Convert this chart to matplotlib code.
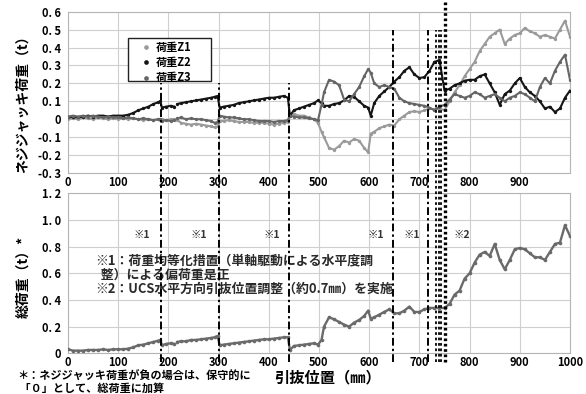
import matplotlib
matplotlib.use("Agg")
import matplotlib.pyplot as plt
from matplotlib.transforms import blended_transform_factory
from matplotlib.patches import Rectangle
from matplotlib.lines import Line2D
import numpy as np

# ---------------- data ----------------
X = [0, 10, 20, 30, 40, 50, 60, 70, 80, 90, 100, 110, 120, 130, 140, 150, 160, 170, 180, 184,
     187, 195, 205, 212, 215, 218, 225, 235, 245, 255, 265, 275, 285, 292, 298,
     302, 310, 320, 330, 340, 350, 360, 370, 380, 390, 400, 410, 420, 430, 438,
     442, 450, 460, 470, 480, 490, 498,
     505, 510, 520, 530, 540, 550, 560, 570, 580, 590, 598,
     603, 610, 620, 630, 640, 650, 660, 670, 680, 690, 700, 710, 720, 730, 740, 750,
     760, 770, 780, 790, 800, 810, 820, 830, 840, 850, 860, 870, 880, 890, 900,
     910, 920, 930, 940, 950, 960, 970, 980, 990, 1000]

nan = float("nan")

Z1 = [0.0, 0.005, 0.0, 0.01, 0.005, 0.0, 0.01, 0.005, 0.0, 0.005, 0.0, 0.005, 0.0, 0.005, 0.0, -0.005, 0.0, -0.005, 0.0, -0.005,
      0.0, -0.005, 0.0, 0.0, nan, -0.005, -0.02, -0.025, -0.03, -0.025, -0.03, -0.035, -0.04, -0.045, -0.04,
      -0.01, -0.01, -0.005, -0.01, -0.015, -0.015, -0.015, -0.02, -0.02, -0.02, -0.025, -0.03, -0.025, -0.02, -0.015,
      0.03, 0.03, 0.02, 0.02, 0.01, 0.0, -0.02,
      -0.07, -0.1, -0.16, -0.17, -0.15, -0.12, -0.13, -0.11, -0.12, -0.16, -0.185,
      -0.08, -0.07, -0.05, -0.04, -0.03, -0.035, 0.0, 0.02, 0.04, 0.045, 0.04, 0.05, 0.06, 0.055, 0.06, 0.05,
      0.10, 0.15, 0.19, 0.24, 0.28, 0.32, 0.38, 0.42, 0.46, 0.48, 0.50, 0.42, 0.45, 0.47, 0.48,
      0.51, 0.49, 0.48, 0.46, 0.47, 0.46, 0.45, 0.50, 0.55, 0.46]

Z2 = [0.01, 0.015, 0.01, 0.015, 0.02, 0.015, 0.02, 0.02, 0.015, 0.02, 0.02, 0.02, 0.025, 0.035, 0.05, 0.06, 0.07, 0.085, 0.095, 0.10,
      0.065, 0.07, 0.075, 0.07, nan, 0.085, 0.09, 0.095, 0.10, 0.105, 0.11, 0.115, 0.12, 0.125, 0.13,
      0.065, 0.07, 0.075, 0.08, 0.09, 0.095, 0.10, 0.105, 0.11, 0.115, 0.12, 0.12, 0.125, 0.13, 0.12,
      0.02, 0.05, 0.06, 0.07, 0.08, 0.09, 0.105,
      0.09, 0.075, 0.075, 0.085, 0.09, 0.105, 0.13, 0.125, 0.10, 0.075, 0.065,
      0.02, 0.09, 0.13, 0.155, 0.18, 0.21, 0.235, 0.27, 0.29, 0.25, 0.23, 0.235, 0.27, 0.32, 0.33, 0.16,
      0.17, 0.19, 0.20, 0.215, 0.22, 0.22, 0.24, 0.25, 0.20, 0.15, 0.08, 0.14, 0.16, 0.20, 0.23,
      0.18, 0.15, 0.13, 0.10, 0.06, 0.07, 0.04, 0.06, 0.12, 0.16]

Z3 = [0.015, 0.02, 0.015, 0.02, 0.015, 0.02, 0.015, 0.01, 0.015, 0.01, 0.01, 0.005, 0.01, 0.005, 0.0, 0.005, 0.0, -0.005, 0.0, 0.0,
      -0.01, -0.005, -0.01, -0.005, nan, 0.005, 0.01, 0.0, 0.005, 0.0, 0.0, -0.005, -0.01, -0.02, -0.015,
      0.02, 0.015, 0.01, 0.01, 0.005, 0.0, 0.0, -0.005, -0.01, -0.01, -0.01, -0.015, -0.01, -0.01, -0.005,
      0.02, 0.015, 0.01, 0.01, 0.005, 0.0, -0.005,
      0.08, 0.15, 0.22, 0.21, 0.19, 0.11, 0.10, 0.14, 0.18, 0.24, 0.28,
      0.26, 0.20, 0.18, 0.19, 0.18, 0.17, 0.12, 0.10, 0.09, 0.085, 0.08, 0.075, 0.065, 0.05, 0.07, 0.08,
      0.11, 0.14, 0.13, 0.12, 0.13, 0.15, 0.14, 0.12, 0.13, 0.14, 0.12, 0.10, 0.12, 0.13, 0.15,
      0.14, 0.12, 0.10, 0.18, 0.23, 0.20, 0.27, 0.32, 0.36, 0.22]

TOTAL = [0.03, 0.02, 0.02, 0.02, 0.025, 0.025, 0.025, 0.03, 0.025, 0.03, 0.03, 0.03, 0.035, 0.045, 0.06, 0.065, 0.075, 0.085, 0.095, 0.10,
         0.06, 0.07, 0.075, 0.07, nan, 0.085, 0.09, 0.09, 0.10, 0.10, 0.105, 0.11, 0.115, 0.12, 0.13,
         0.06, 0.065, 0.07, 0.075, 0.08, 0.085, 0.09, 0.095, 0.10, 0.105, 0.105, 0.11, 0.115, 0.12, 0.12,
         0.025, 0.055, 0.06, 0.065, 0.07, 0.075, 0.065,
         0.10, 0.20, 0.27, 0.255, 0.235, 0.215, 0.20, 0.23, 0.25, 0.28, 0.32,
         0.26, 0.27, 0.29, 0.31, 0.33, 0.30, 0.30, 0.32, 0.35, 0.31, 0.31, 0.33, 0.34, 0.34, 0.34, 0.34,
         0.37, 0.44, 0.47, 0.56, 0.60, 0.68, 0.74, 0.76, 0.73, 0.82, 0.70, 0.63, 0.70, 0.78, 0.79,
         0.78, 0.75, 0.72, 0.72, 0.70, 0.76, 0.82, 0.83, 0.96, 0.88]

SERIES_LABELS = ["荷重Z1", "荷重Z2", "荷重Z3"]
SERIES_COLORS = ["#9a9a9a", "#151515", "#656565"]
TOTAL_COLOR = "#6a6a6a"

TOP_YTICKS = [-0.3, -0.2, -0.1, 0.0, 0.1, 0.2, 0.3, 0.4, 0.5, 0.6]
TOP_YLABELS = ["-0. 3", "-0. 2", "-0. 1", "0", "0. 1", "0. 2", "0. 3", "0. 4", "0. 5", "0. 6"]
BOT_YTICKS = [0.0, 0.2, 0.4, 0.6, 0.8, 1.0, 1.2]
BOT_YLABELS = ["0", "0. 2", "0. 4", "0. 6", "0. 8", "1. 0", "1. 2"]
TOP_XTICKS = [0, 100, 200, 300, 400, 500, 600, 700, 800, 900]
BOT_XTICKS = [0, 100, 200, 300, 400, 500, 600, 700, 800, 900, 1000]

# event lines (position, start value in upper panel)
DASHDOT_X = [185, 300, 440, 648, 717]
DASHDOT_TOP = [0.2, 0.2, 0.2, 0.5, 0.5]
DOT_X = [733, 739, 744]
DOT_TOP = [0.5, 0.5, 0.5]
THICK_X = [750]

NOTE_MARKS = ["※1", "※1", "※1", "※1", "※1", "※2"]
NOTE_X = [147, 261, 406, 613, 685, 784]

NOTE_TEXT = ("※1：荷重均等化措置（単軸駆動による水平度調\n"
             "  整）による偏荷重是正\n"
             "※2：UCS水平方向引抜位置調整（約0.7㎜）を実施")
FOOT_TEXT = ("＊：ネジジャッキ荷重が負の場合は、保守的に\n"
             " 「０」として、総荷重に加算")

# ---------------- figure ----------------
plt.rcParams["font.family"] = ["Noto Sans CJK JP", "DejaVu Sans"]
plt.rcParams["font.weight"] = "bold"

fig = plt.figure(figsize=(5.86, 3.94), dpi=100)
FW, FH = 586.0, 394.0
L = 68 / FW
W = (570 - 68) / FW
ax_top = fig.add_axes([L, 1 - 173 / FH, W, (173 - 11.7) / FH])
ax_bot = fig.add_axes([L, 1 - 353.3 / FH, W, (353.3 - 193.3) / FH])

for y, lab, col in zip([Z1, Z2, Z3], SERIES_LABELS, SERIES_COLORS):
    ax_top.plot(X, y, color=col, lw=1.5, marker="o", ms=2.4, mew=0, label=lab, zorder=3)

ax_bot.plot(X, TOTAL, color=TOTAL_COLOR, lw=1.7, marker="o", ms=2.6, mew=0, zorder=3)

for ax in (ax_top, ax_bot):
    ax.set_xlim(0, 1000)
    ax.grid(True, color="#cfcfcf", lw=0.8)
    ax.set_axisbelow(True)
    for s in ax.spines.values():
        s.set_color("#b5b5b5")
        s.set_linewidth(0.8)
    ax.tick_params(length=0, labelsize=8)
    ax.tick_params(axis="y", pad=5)
    ax.tick_params(axis="x", pad=2)

ax_top.set_ylim(-0.3, 0.6)
ax_top.set_yticks(TOP_YTICKS)
ax_top.set_yticklabels(TOP_YLABELS)
ax_top.set_xticks(TOP_XTICKS)
ax_top.set_xticklabels([str(v) for v in TOP_XTICKS])

ax_bot.set_ylim(0, 1.2)
ax_bot.set_yticks(BOT_YTICKS)
ax_bot.set_yticklabels(BOT_YLABELS)
ax_bot.set_xticks(BOT_XTICKS)
ax_bot.set_xticklabels([str(v) for v in BOT_XTICKS])

# event lines spanning both panels
trans = blended_transform_factory(ax_bot.transData, fig.transFigure)
fig.canvas.draw()
inv = fig.transFigure.inverted()
y_bottom = 1 - 362 / FH

def top_frac(v):
    return inv.transform(ax_top.transData.transform((0, v)))[1]

for xv, tv in zip(DASHDOT_X, DASHDOT_TOP):
    fig.add_artist(Line2D([xv, xv], [y_bottom, top_frac(tv)], transform=trans,
                          color="black", lw=1.4, ls=(0, (4, 1.6, 1.2, 1.6)), zorder=3))
for xv, tv in zip(DOT_X, DOT_TOP):
    fig.add_artist(Line2D([xv, xv], [y_bottom, top_frac(tv)], transform=trans,
                          color="black", lw=1.3, ls=(0, (1.5, 1.5)), zorder=3))
for xv in THICK_X:
    fig.add_artist(Line2D([xv, xv], [y_bottom, 1.0], transform=trans,
                          color="black", lw=2.4, ls=(0, (0.8, 0.8)), zorder=3))

# legend box
fig.add_artist(Rectangle((128 / FW, 1 - 81 / FH), 83 / FW, 43 / FH, transform=fig.transFigure,
                         facecolor="white", edgecolor="#222222", lw=1.0, zorder=4))
handles, labels = ax_top.get_legend_handles_labels()
leg = fig.legend(handles, labels, loc="upper left", bbox_to_anchor=(143 / FW, 1 - 41 / FH),
                 frameon=False, fontsize=8, handlelength=0.6, handletextpad=0.5,
                 borderpad=0, borderaxespad=0, labelspacing=0.2, markerscale=1.4)
for h in leg.legend_handles:
    h.set_linestyle("none")
leg.set_zorder(5)

# notes in lower panel
for m, xv in zip(NOTE_MARKS, NOTE_X):
    ax_bot.text(xv, 0.885, m, ha="center", va="center", fontsize=7.5, color="#333333", zorder=5)

ax_bot.text(54, 0.59, NOTE_TEXT, ha="left", va="center", linespacing=1.05,
            fontsize=9.3, color="#2a2a2a", zorder=5)

# axis titles
fig.text(23 / FW, 1 - 101 / FH, "ネジジャッキ荷重（t）", rotation=90, ha="center", va="center",
         fontsize=10, fontweight="bold")
fig.text(23 / FW, 1 - 277 / FH, "総荷重（t）*", rotation=90, ha="center", va="center",
         fontsize=10, fontweight="bold")
fig.text(328 / FW, 1 - 377 / FH, "引抜位置（㎜）", ha="center", va="center",
         fontsize=11, fontweight="bold")

# footnote
fig.text(17 / FW, 1 - 382.5 / FH, FOOT_TEXT, ha="left", va="center", linespacing=0.95,
         fontsize=8, fontweight="bold")

fig.savefig("out.png", dpi=100)
